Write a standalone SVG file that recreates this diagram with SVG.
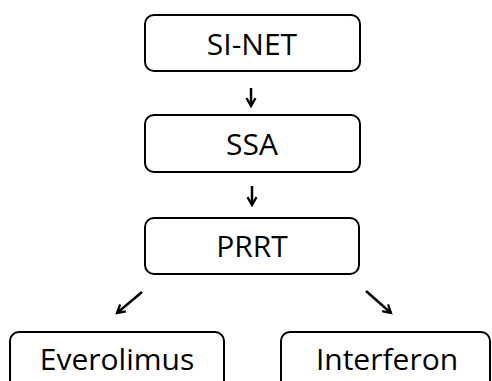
<svg xmlns="http://www.w3.org/2000/svg" width="492" height="381" viewBox="0 0 492 381">
<style>
.box{fill:#fff;stroke:#000;stroke-width:2}
.lbl{font-family:"Open Sans","Liberation Sans",sans-serif;font-size:30px;fill:#000;text-anchor:middle}
.con{stroke:#000;stroke-width:2.5;fill:none}
</style>
<defs>
<marker id="ah" viewBox="0 0 10 10" refX="8" refY="5" markerWidth="4.5" markerHeight="4.5" orient="auto" markerUnits="strokeWidth">
<path d="M1,1 L8,5 L1,9" fill="none" stroke="#000" stroke-width="2"/>
</marker>
</defs>
<rect width="492" height="381" fill="#fff"/>
<g id="connectors">
<line class="con" x1="251" y1="88" x2="251" y2="106" marker-end="url(#ah)"/>
<line class="con" x1="252" y1="186" x2="252" y2="205" marker-end="url(#ah)"/>
<line class="con" x1="142" y1="292" x2="117" y2="313" marker-end="url(#ah)"/>
<line class="con" x1="366" y1="291" x2="391" y2="313" marker-end="url(#ah)"/>
</g>
<g id="sinet">
<rect class="box" x="145" y="15" width="215" height="56" rx="9"/>
<text class="lbl" x="252" y="55">SI-NET</text>
</g>
<g id="ssa">
<rect class="box" x="145" y="115" width="215" height="57" rx="9"/>
<text class="lbl" x="252" y="155">SSA</text>
</g>
<g id="prrt">
<rect class="box" x="145" y="218" width="214" height="56" rx="9"/>
<text class="lbl" x="252" y="257">PRRT</text>
</g>
<g id="everolimus">
<rect class="box" x="10" y="332" width="214" height="70" rx="9"/>
<text class="lbl" x="117" y="370">Everolimus</text>
</g>
<g id="interferon">
<rect class="box" x="281" y="332" width="209" height="70" rx="9"/>
<text class="lbl" x="387" y="370">Interferon</text>
</g>
</svg>
